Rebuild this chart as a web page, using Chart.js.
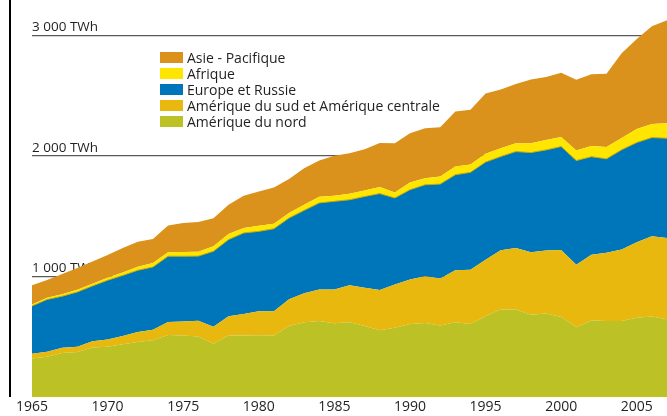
<!DOCTYPE html>
<html><head><meta charset="utf-8">
<script src="https://cdn.jsdelivr.net/npm/chart.js@4/dist/chart.umd.min.js"></script>
<style>
body{margin:0;background:#fff;}
#wrap{position:relative;width:667px;height:416px;}
#legend{position:absolute;left:160px;top:49.5px;font-family:'Open Sans';font-size:14px;color:#231f20;}
.row{display:flex;align-items:center;height:16px;line-height:16px;white-space:nowrap;}
.sw{width:23px;height:11px;margin-right:4px;flex:none;}
</style></head>
<body><div id="wrap"><canvas id="c" width="667" height="416"></canvas><div id="legend"></div></div>
<script>
const YEARS = [1965,1966,1967,1968,1969,1970,1971,1972,1973,1974,1975,1976,1977,1978,1979,1980,1981,1982,1983,1984,1985,1986,1987,1988,1989,1990,1991,1992,1993,1994,1995,1996,1997,1998,1999,2000,2001,2002,2003,2004,2005,2006,2007];
const AMERIQUE_NORD = [321,336,366,374,411,419,438,457,471,515, 511,502,442,512,512,514,512,589,622,631, 612,620,589,554,576,606,614,595,622,606, 672,727,727,683,694,665,580,636,631,631, 659,669,645];
const AMERIQUE_SUD = [40,40,43,45,52,60,69,83,87,109, 116,131,142,158,178,199,201,223,239,262, 281,307,317,335,358,369,388,388,429,450, 466,490,510,518,522,554,517,545,565,593, 625,664,675];
const EUROPE_RUSSIE = [395,434,428,453,459,490,502,512,521,544, 541,536,625,636,671,661,683,673,687,717, 730,709,757,798,717,744,758,783,792,807, 810,777,798,826,833,858,864,812,779,826, 826,818,826];
const AFRIQUE = [12,14,16,18,19,21,25,29,33,33, 35,37,41,47,41,47,41,41,47,50, 47,50,50,55,45,60,55,63,69,64, 69,69,69,78,83,78,83,88,97,97, 113,113,124];
const ASIE_PACIFIQUE = [160,147,168,180,183,188,202,208,198,221, 241,245,233,242,267,283,300,281,303,302, 331,336,342,364,409,408,413,408,455,455, 500,486,490,527,521,534,587,595,608,702, 744,810,854];
const Y_TICKS = [1000,2000,3000];
const Y_TICK_LABELS = ['1 000 TWh','2 000 TWh','3 000 TWh'];
const SERIES_NAMES = ['Amérique du nord','Amérique du sud et Amérique centrale','Europe et Russie','Afrique','Asie - Pacifique'];

const COLORS = ['#bcc126','#e9b80e','#0076ba','#ffe600','#db921d'];
const series = [AMERIQUE_NORD, AMERIQUE_SUD, EUROPE_RUSSIE, AFRIQUE, ASIE_PACIFIQUE];

const datasets = series.map((d,i)=>({
  label: SERIES_NAMES[i],
  data: d,
  backgroundColor: COLORS[i],
  borderColor: i===2 ? '#c9ab08' : COLORS[i],
  borderWidth: i===2 ? 1 : 0,
  pointRadius: 0,
  tension: 0,
  fill: i===0 ? 'origin' : '-1'
}));

const leftRule = {id:'leftRule', afterDraw(chart){const c=chart.ctx; c.save(); c.fillStyle='#000'; c.fillRect(9,0,2,397); c.restore();}};

new Chart(document.getElementById('c'), {
  type: 'line',
  data: { labels: YEARS, datasets },
  plugins: [leftRule],
  options: {
    responsive: false,
    animation: false,
    layout: { padding: { left: 32, right: 0, top: 0, bottom: 0 } },
    plugins: { legend: { display: false }, tooltip: { enabled: false } },
    scales: {
      x: {
        type: 'category',
        offset: false,
        grid: { display: false, drawTicks: false },
        border: { display: false },
        afterFit: s => { s.paddingLeft = 0; s.paddingRight = 0; },
        ticks: {
          autoSkip: false, maxRotation: 0, padding: 1,
          color: '#231f20',
          font: { family: 'Open Sans', size: 14 },
          callback: (v, i) => (YEARS[i] % 5 === 0 ? String(YEARS[i]) : null)
        }
      },
      y: {
        stacked: true,
        min: 0, max: 3291,
        afterBuildTicks: s => { s.ticks = Y_TICKS.map(v => ({ value: v })); },
        afterFit: s => { s.paddingTop = 0; s.paddingBottom = 0; s.width = 0; },
        grid: { color: '#5a5a5a', lineWidth: 1.2, drawTicks: false },
        border: { display: false },
        ticks: {
          mirror: true, padding: 0, labelOffset: -8,
          color: '#231f20',
          font: { family: 'Open Sans', size: 13.5 },
          callback: v => { const k = Y_TICKS.indexOf(v); return k >= 0 ? Y_TICK_LABELS[k] : ''; }
        }
      }
    }
  }
});

const lg = document.getElementById('legend');
for (let i = series.length - 1; i >= 0; i--) {
  const r = document.createElement('div'); r.className = 'row';
  const s = document.createElement('div'); s.className = 'sw'; s.style.background = COLORS[i];
  const t = document.createElement('span'); t.textContent = SERIES_NAMES[i];
  r.appendChild(s); r.appendChild(t); lg.appendChild(r);
}
</script>
</body></html>
